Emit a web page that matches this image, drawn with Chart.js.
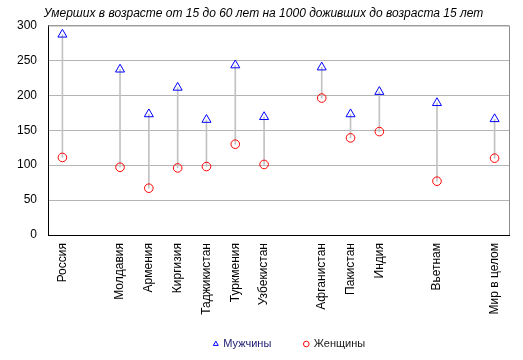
<!DOCTYPE html>
<html>
<head>
<meta charset="utf-8">
<script src="https://cdn.jsdelivr.net/npm/chart.js@4"></script>
<style>
  html, body { margin: 0; padding: 0; background: #fff; }
  #wrap { width: 523px; height: 360px; position: relative; }
</style>
</head>
<body>
<div id="wrap"><canvas id="c"></canvas></div>
<script>
const categories = ['Россия', '', 'Молдавия', 'Армения', 'Киргизия', 'Таджикистан', 'Туркмения', 'Узбекистан', '', 'Афганистан', 'Пакистан', 'Индия', '', 'Вьетнам', '', 'Мир в целом'];
const men   = [287, null, 237, 173, 211, 165, 243, 169, null, 240, 173, 205, null, 189, null, 166];
const women = [111, null,  97,  67,  96,  98, 130, 101, null, 196, 139, 148, null,  77, null, 110];
const yTicks = [0, 50, 100, 150, 200, 250, 300];
const seriesNames = ['Мужчины', 'Женщины'];
const chartTitle = 'Умерших в возрасте от 15 до 60 лет на 1000 доживших до возраста 15 лет';

const FONT = "'Liberation Sans', Arial, sans-serif";

const ranges = categories.map((_, i) => (men[i] == null || women[i] == null) ? null : [women[i], men[i]]);

const frame = {
  id: 'frame',
  afterDatasetsDraw(chart) {
    const a = chart.chartArea, ctx = chart.ctx;
    ctx.save();
    ctx.strokeStyle = '#8c8c8c';
    ctx.lineWidth = 1;
    ctx.beginPath();
    ctx.moveTo(a.left, a.top + 0.5);
    ctx.lineTo(a.right + 0.5, a.top + 0.5);
    ctx.lineTo(a.right + 0.5, a.bottom);
    ctx.stroke();
    ctx.restore();
  },
  afterLayout(chart) {
    const lg = chart.legend;
    if (lg) { lg.left += 11; lg.right += 11; }
    const tb = chart.titleBlock;
    if (tb) { tb.left += 9; tb.right += 9; }
    const sx = chart.scales.x;
    if (sx) { sx.bottom += 16; }
  }
};

new Chart(document.getElementById('c'), {
  data: {
    labels: categories,
    datasets: [
      {
        type: 'line', label: seriesNames[0], data: men, showLine: false,
        pointStyle: 'triangle', pointRadius: 5.2, borderColor: '#0000ff',
        backgroundColor: 'rgba(0,0,0,0)', borderWidth: 1, order: 1
      },
      {
        type: 'line', label: seriesNames[1], data: women, showLine: false,
        pointStyle: 'circle', pointRadius: 4.3, borderColor: '#ff0000',
        backgroundColor: 'rgba(0,0,0,0)', borderWidth: 1, order: 2
      },
      {
        type: 'bar', label: 'range', data: ranges, barThickness: 1,
        backgroundColor: '#c2c2c2', borderWidth: 0, order: 3
      }
    ]
  },
  options: {
    responsive: true,
    maintainAspectRatio: false,
    animation: false,
    layout: { padding: { left: 0, right: 14, top: 0, bottom: 0.5 } },
    scales: {
      x: {
        type: 'category',
        offset: true,
        grid: { display: false, drawTicks: false },
        border: { display: true, color: '#000', width: 1 },
        ticks: {
          autoSkip: false, maxRotation: 90, minRotation: 90, padding: 8,
          color: '#000', font: { family: FONT, size: 12 }
        },
        afterFit(s) { s.height = 70.5; }
      },
      y: {
        min: 0, max: 300,
        grid: { color: '#b4b4b4', drawTicks: false, lineWidth: 1 },
        border: { display: true, color: '#000', width: 1 },
        afterBuildTicks(s) { s.ticks = yTicks.map(v => ({ value: v })); },
        ticks: { padding: 11, color: '#000', font: { family: FONT, size: 12 } },
        afterFit(s) { s.width = 48; }
      }
    },
    plugins: {
      title: {
        display: true, text: chartTitle, color: '#000',
        font: { family: FONT, size: 12, style: 'italic', weight: 'normal' },
        padding: { top: 6, bottom: 5 }
      },
      legend: {
        display: true, position: 'bottom', fullSize: false,
        labels: {
          usePointStyle: true, boxWidth: 4, boxHeight: 4, padding: 33,
          font: { family: FONT, size: 11 },
          filter: (item) => item.datasetIndex < 2,
          generateLabels(chart) {
            const items = Chart.defaults.plugins.legend.labels.generateLabels(chart);
            items.forEach(it => { it.fontColor = it.datasetIndex === 0 ? '#1a1a6e' : '#1a1a1a'; });
            return items;
          }
        }
      },
      tooltip: { enabled: false }
    }
  },
  plugins: [frame]
});
</script>
</body>
</html>
